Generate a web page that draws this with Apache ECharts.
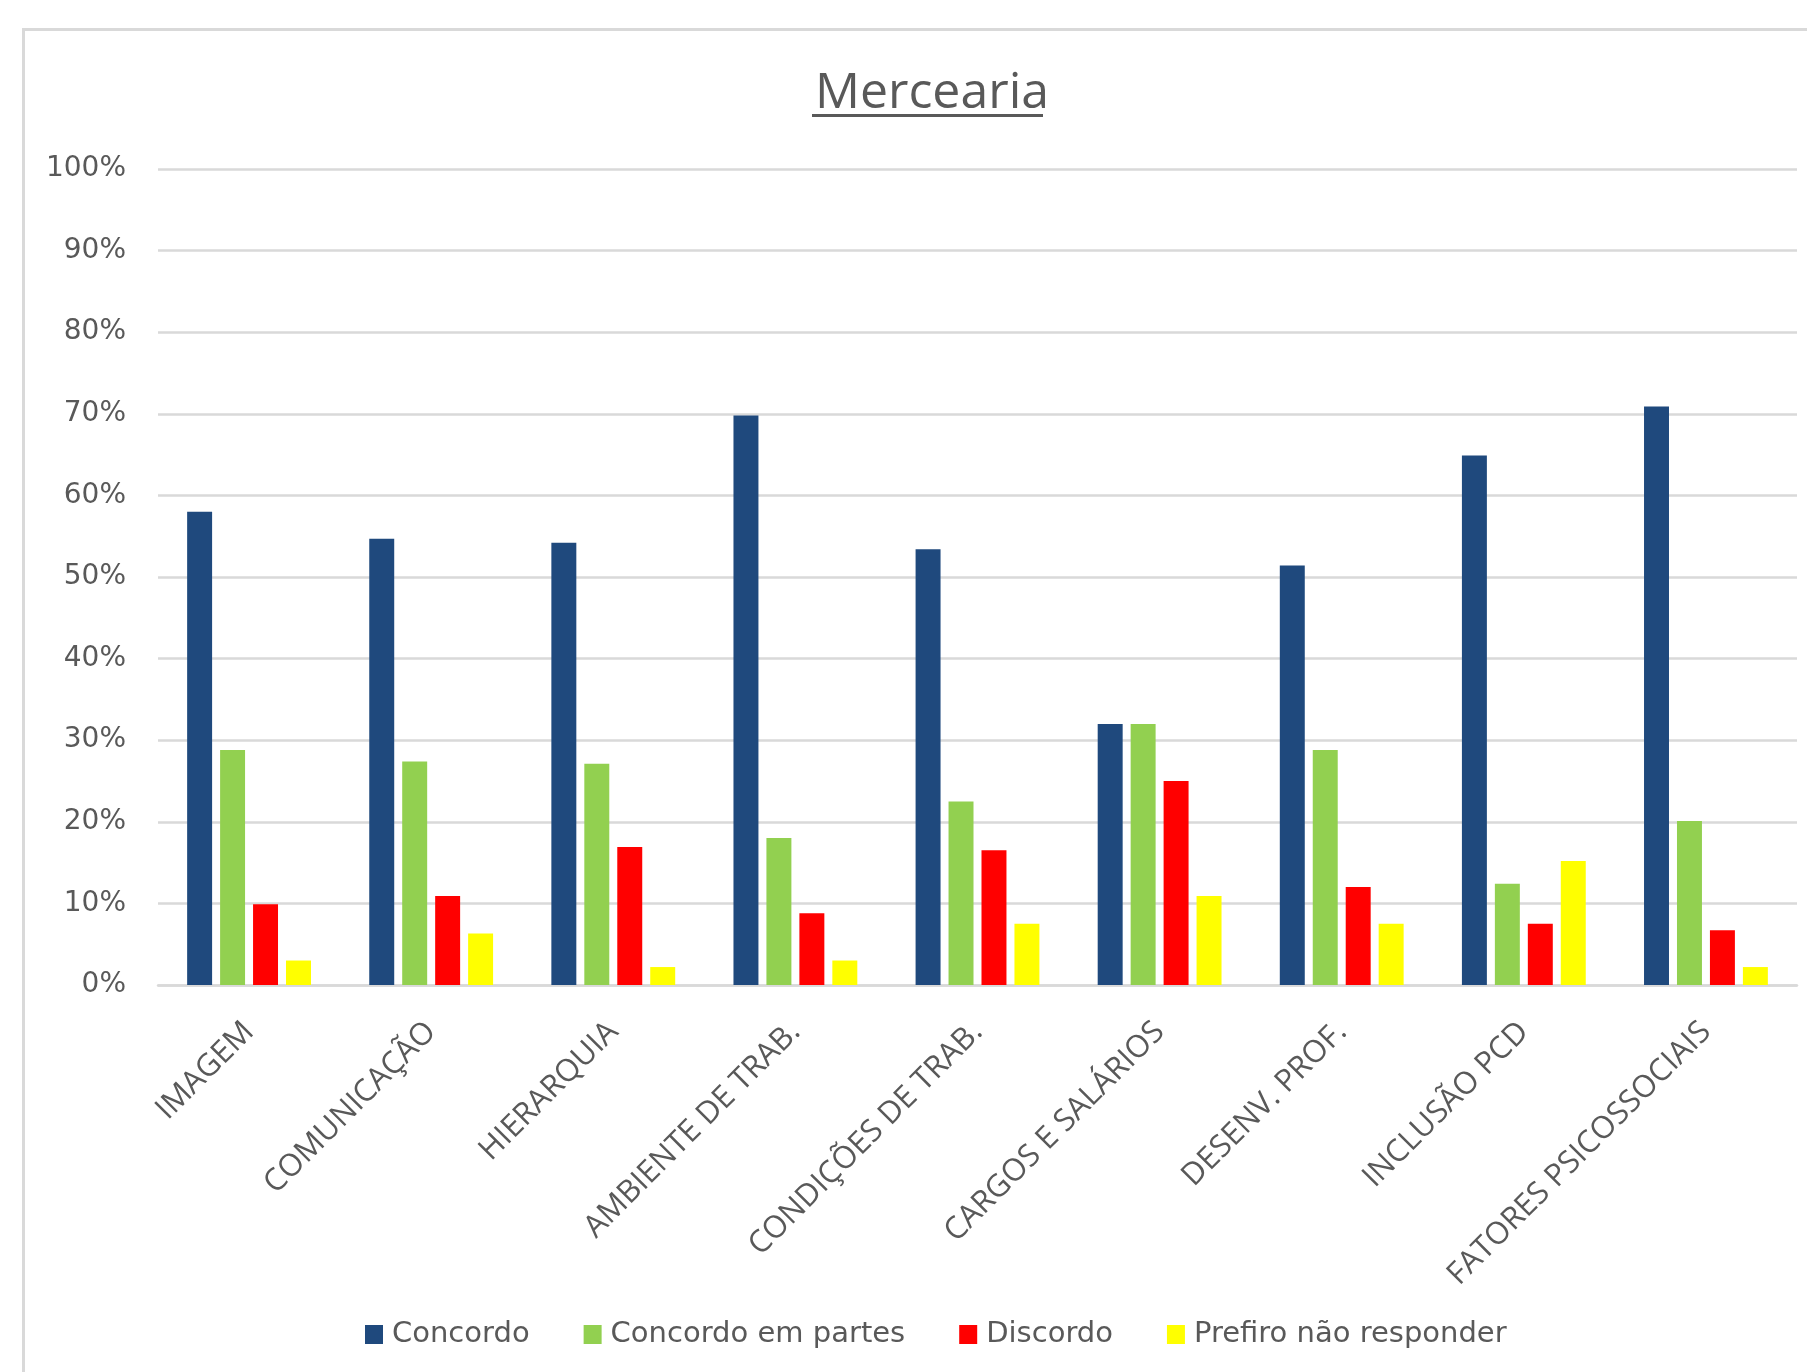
<!DOCTYPE html>
<html>
<head>
<meta charset="utf-8">
<title>Mercearia</title>
<script src="https://cdn.jsdelivr.net/npm/echarts@6/dist/echarts.min.js"></script>
<style>
  html, body { margin: 0; padding: 0; background: #ffffff; }
  #chart { width: 1807px; height: 1372px; }
</style>
</head>
<body>
<div id="chart"></div>
<script>
// Survey categories (x axis)
const categories = [
  'IMAGEM',
  'COMUNICAÇÃO',
  'HIERARQUIA',
  'AMBIENTE DE TRAB.',
  'CONDIÇÕES DE TRAB.',
  'CARGOS E SALÁRIOS',
  'DESENV. PROF.',
  'INCLUSÃO PCD',
  'FATORES PSICOSSOCIAIS'
];

// Share of answers per category, in percent
const concordo        = [58.0, 54.7, 54.2, 69.8, 53.4, 32.0, 51.4, 64.9, 70.9];
const concordoPartes  = [28.8, 27.4, 27.1, 18.0, 22.5, 32.0, 28.8, 12.4, 20.1];
const discordo        = [ 9.9, 10.9, 16.9,  8.8, 16.5, 25.0, 12.0,  7.5,  6.7];
const prefiroNao      = [ 3.0,  6.3,  2.2,  3.0,  7.5, 10.9,  7.5, 15.2,  2.2];

const seriesNames = ['Concordo', 'Concordo em partes', 'Discordo', 'Prefiro não responder'];
const seriesColors = ['#1F497D', '#92D050', '#FF0000', '#FFFF00'];
const seriesData = [concordo, concordoPartes, discordo, prefiroNao];

// Y axis: 0% .. 100% in steps of 10
const yMin = 0, yMax = 100, yStep = 10;

const textGrey = '#595959';
const lineGrey = '#d9d9d9';

const chart = echarts.init(document.getElementById('chart'), null, { renderer: 'canvas' });

chart.setOption({
  backgroundColor: '#ffffff',
  animation: false,
  title: {
    text: 'Mercearia',
    left: 927,
    top: 64,
    textAlign: 'center',
    textStyle: {
      fontFamily: 'Open Sans',
      fontSize: 50,
      fontWeight: 'normal',
      color: textGrey
    }
  },
  graphic: [
    {
      // chart frame
      type: 'rect',
      silent: true,
      shape: { x: 23.5, y: 29.5, width: 1900, height: 1500 },
      style: { fill: null, stroke: lineGrey, lineWidth: 3 }
    },
    {
      // title underline
      type: 'line',
      silent: true,
      shape: { x1: 812, y1: 115.5, x2: 1043, y2: 115.5 },
      style: { stroke: textGrey, lineWidth: 3 }
    }
  ],
  legend: {
    data: seriesNames,
    left: 365,
    top: 1320,
    padding: 0,
    icon: 'rect',
    itemWidth: 18,
    itemHeight: 19,
    itemGap: 54,
    textStyle: {
      fontFamily: 'DejaVu Sans',
      fontSize: 29,
      color: textGrey,
      padding: [0, 0, 0, 4]
    }
  },
  grid: {
    left: 158,
    right: 10,
    top: 169,
    bottom: 387,
    containLabel: false
  },
  xAxis: {
    type: 'category',
    data: categories,
    axisLine: { show: true, lineStyle: { color: lineGrey, width: 2.5 } },
    axisTick: { show: false },
    axisLabel: {
      interval: 0,
      rotate: 45,
      margin: 42,
      fontFamily: 'Open Sans',
      fontSize: 31,
      color: textGrey
    }
  },
  yAxis: {
    type: 'value',
    min: yMin,
    max: yMax,
    interval: yStep,
    axisLine: { show: false },
    axisTick: { show: false },
    splitLine: { lineStyle: { color: lineGrey, width: 2.5 } },
    axisLabel: {
      margin: 32,
      formatter: '{value}%',
      fontFamily: 'DejaVu Sans',
      fontSize: 28,
      color: textGrey
    }
  },
  series: seriesNames.map((name, i) => ({
    name: name,
    type: 'bar',
    data: seriesData[i],
    barCategoryGap: '32%',
    barGap: '32%',
    itemStyle: { color: seriesColors[i] }
  }))
});
</script>
</body>
</html>
